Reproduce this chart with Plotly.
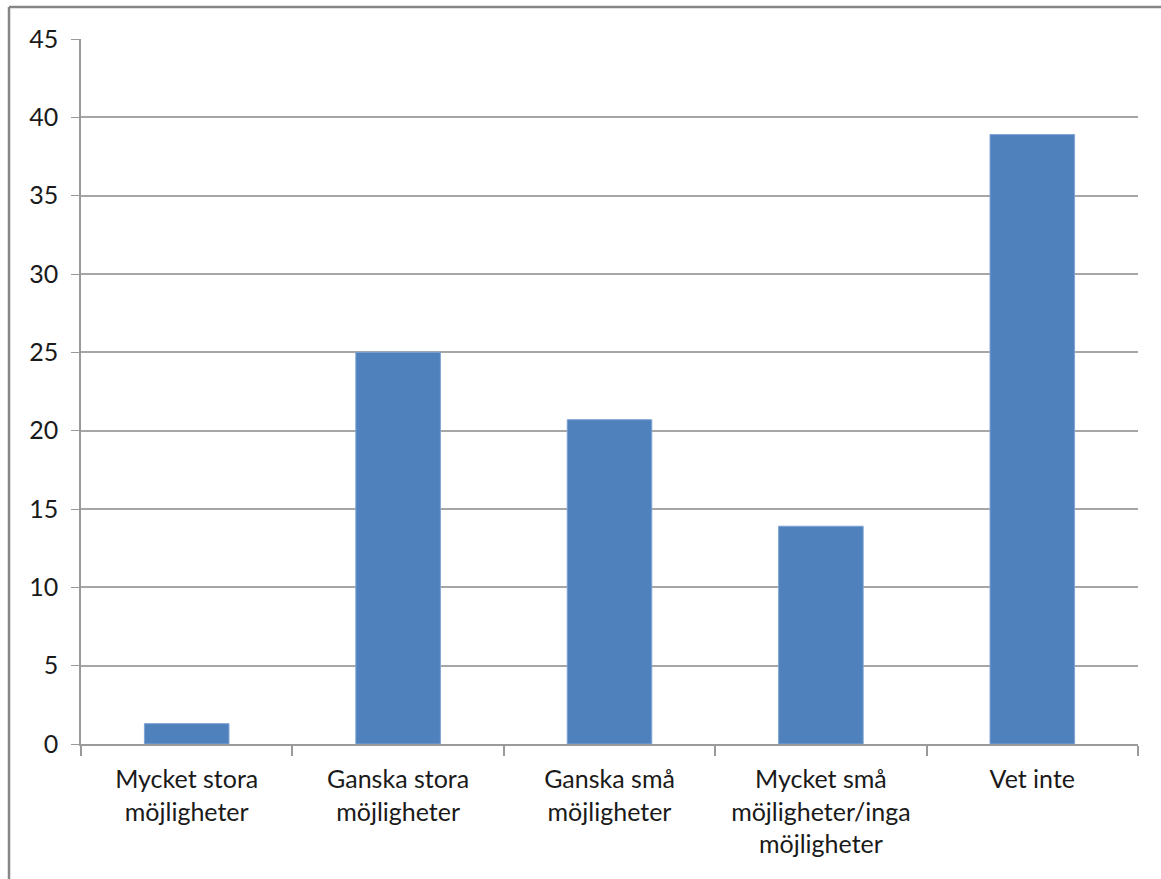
import plotly.graph_objects as go

categories = [
    "Mycket stora<br>möjligheter",
    "Ganska stora<br>möjligheter",
    "Ganska små<br>möjligheter",
    "Mycket små<br>möjligheter/inga<br>möjligheter",
    "Vet inte",
]
values = [1.3, 25.0, 20.7, 13.9, 38.9]
y_ticks = [0, 5, 10, 15, 20, 25, 30, 35, 40, 45]

W, H = 1161, 879
ml, mr, mt, mb = 81, 23, 39, 135

fig = go.Figure(go.Bar(
    x=categories, y=values,
    marker=dict(color="#4F81BD", line=dict(color="#7FA3D3", width=1)),
    width=0.4,
))

font = dict(family="Lato, Calibri, 'Noto Sans', sans-serif", size=25, color="#1a1a1a")
pw, ph = W - ml - mr, H - mt - mb

fig.update_layout(
    width=W, height=H,
    margin=dict(l=ml, r=mr, t=mt, b=mb),
    paper_bgcolor="white", plot_bgcolor="white",
    showlegend=False,
    font=font,
    xaxis=dict(
        showline=True, linecolor="#9a9a9a", linewidth=2,
        ticks="outside", ticklen=10, tickcolor="#9a9a9a", tickwidth=1.5,
        tickson="boundaries", showgrid=False, tickfont=font,
        ticklabelstandoff=12,
        range=[-0.5, 4.5],
    ),
    yaxis=dict(
        range=[0, 45], tickvals=y_ticks,
        showline=True, linecolor="#9a9a9a", linewidth=1.5,
        ticks="outside", ticklen=8, tickcolor="#9a9a9a",
        showgrid=True, gridcolor="#a6a6a6", gridwidth=1.5,
        zeroline=False, tickfont=font,
        ticklabelstandoff=8,
    ),
    shapes=[
        dict(type="line", xref="paper", yref="paper",
             x0=(9 - ml) / pw, x1=(W - ml) / pw,
             y0=(H - mb - 7) / ph, y1=(H - mb - 7) / ph,
             line=dict(color="#868686", width=2.5)),
        dict(type="line", xref="paper", yref="paper",
             x0=(9 - ml) / pw, x1=(9 - ml) / pw,
             y0=(H - mb - 7) / ph, y1=-mb / ph,
             line=dict(color="#868686", width=2.5)),
    ],
)

fig.write_html(
    "out.html",
    config={"displayModeBar": False},
    post_script="document.body.style.margin='0';document.body.style.overflow='hidden';",
)
